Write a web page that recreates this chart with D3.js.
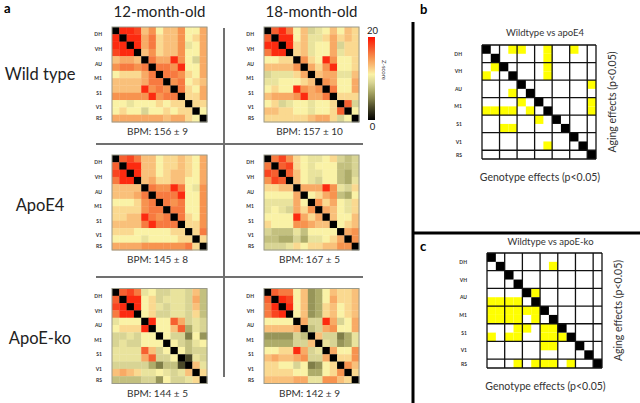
<!DOCTYPE html>
<html><head><meta charset="utf-8">
<script src="https://cdn.jsdelivr.net/npm/d3@7"></script>
<style>body{margin:0;background:#fff}svg{display:block}text{font-family:Lato,"Open Sans",sans-serif}</style>
</head><body><svg id="chart" width="640" height="403"></svg>
<script>
// ---------- data ----------
const regions = ["DH","VH","AU","M1","S1","V1","RS"];
const regionTickPos = [1,3,5,7,9,11,12.5];   // channel index at group centre
const nCh = 13;
const ages = ["12-month-old","18-month-old"];
const genotypes = ["Wild type","ApoE4","ApoE-ko"];
const bpm = [["BPM: 156 ± 9","BPM: 157 ± 10"],["BPM: 145 ± 8","BPM: 167 ± 5"],["BPM: 144 ± 5","BPM: 142 ± 9"]];
const colorbarTicks = [0,20];

// lower triangles of symmetric z-score matrices (row i holds columns 0..i-1)
const wt12 = [[],[19],[19,19],[18,19,19],[13,14,14,13],[15,16,16,15,16],[11,12,12,12,14,16],[13,13,13,13,14,16,16],[13,13,13,13,19,15,16,15],[15,15,15,15,15,19,15,16,16],[11,11,10,11,11,11,12,11,12,12],[11,12,11,11,9,11,11,12,11,12,12],[14,14,14,14,14,14,14,13,14,14,12,11]];
const wt18 = [[],[17],[19,19],[16,19,19],[11,11,12,12],[13,13,13,13,15],[9,10,10,10,12,14],[10,10,11,11,11,12,13],[11,12,11,11,19,15,14,15],[13,14,14,14,15,19,14,14,16],[11,12,9,10,11,11,10,11,11,12],[13,13,12,12,11,11,10,11,11,12,17],[12,12,12,12,12,12,13,14,14,12,9,11]];
const e4_12 = [[],[17],[18,19],[16,19,19],[13,13,13,13],[13,13,13,14,16],[11,11,11,12,15,16],[12,12,12,12,15,16,16],[12,12,13,13,19,16,15,16],[13,13,13,13,16,19,16,16,16],[12,12,12,11,11,11,11,11,12,12],[11,11,11,11,10,11,11,11,11,12,12],[14,14,14,14,15,15,15,15,15,15,16,12]];
const e4_18 = [[],[16],[18,17],[15,18,17],[12,12,13,13],[11,11,11,11,14],[10,10,10,10,14,11],[10,11,10,9,14,12,15],[11,11,11,11,19,14,12,14],[12,11,11,11,15,15,14,13,13],[9,8,8,8,10,8,11,11,11,11],[8,8,7,7,9,7,10,10,11,12,14],[9,9,9,10,12,11,12,12,13,13,15,15]];
const ko12 = [[],[17],[18,19],[16,19,19],[10,11,11,11],[11,12,12,12,19],[9,9,10,9,11,11],[9,10,9,9,11,11,11],[10,10,10,10,17,13,9,11],[10,10,10,10,14,17,9,9,11],[9,9,9,9,9,7,5,8,8,3],[13,14,13,12,10,10,11,10,9,10,13],[8,8,8,8,9,9,6,11,9,9,10,12]];
const ko18 = [[],[17],[16,19],[16,18,19],[11,11,11,11],[13,13,13,13,14],[6,6,6,6,9,8],[7,7,7,7,9,9,13],[11,11,12,12,19,14,9,10],[13,14,13,13,14,15,9,9,14],[12,12,11,11,9,11,5,6,11,12],[12,12,12,12,11,11,7,7,11,12,15],[13,13,13,13,14,14,10,10,15,15,13,12]];
const heatmaps = [[wt12, wt18],[e4_12, e4_18],[ko12, ko18]];

// significant cells [row, col] for comparison panels
const sigApoE4 = [[0,3],[0,4],[0,7],[1,7],[2,7],[3,7],[0,10],[2,1],[3,0],[4,12],[5,3],[6,4],[6,12],[7,0],[7,1],[7,2],[7,3],[7,5],[7,12],[8,6],[9,2],[9,3],[11,7]];
const sigApoEko = [[1,7],[4,5],[5,0],[5,1],[5,2],[5,3],[6,0],[6,1],[6,2],[6,3],[6,4],[6,5],[7,0],[7,1],[7,2],[7,3],[7,5],[8,3],[8,4],[8,6],[8,7],[9,0],[9,2],[9,3],[9,6],[9,7],[9,8],[10,6],[10,7],[12,3],[12,5],[12,6],[12,7],[12,9]];
const groupBounds = [0,2,4,6,8,10,12,13];

// ---------- drawing ----------
const svg = d3.select("#chart");
const color = d3.scaleLinear()
  .domain([0,3,5,7,9,11,13,15,17,20])
  .range(['#000000','#4a4828','#807e48','#aeac6a','#d8d494','#faf2a6','#f9c07a','#f7934f','#f66030','#ff1000'])
  .clamp(true);

function full(lower){
  return d3.range(nCh).map(i => d3.range(nCh).map(j => i===j ? 0 : (j<i ? lower[i][j] : lower[j][i])));
}

const hmSize = 95;
const hmX = [112, 264];
const hmY = [27, 155, 288.5];

heatmaps.forEach((row, gi) => row.forEach((lower, ai) => {
  const m = full(lower);
  const x0 = hmX[ai], y0 = hmY[gi];
  const band = d3.scaleBand().domain(d3.range(nCh)).range([0, hmSize]);
  const g = svg.append("g").attr("transform", `translate(${x0},${y0})`);
  const cells = [];
  m.forEach((r,i)=>r.forEach((v,j)=>cells.push({i,j,v})));
  g.selectAll("rect.c").data(cells).join("rect")
    .attr("x", d=>band(d.j)).attr("y", d=>band(d.i))
    .attr("width", band.bandwidth()+0.3).attr("height", band.bandwidth()+0.3)
    .attr("fill", d=>color(d.v));
  g.append("rect").attr("width",hmSize).attr("height",hmSize).attr("fill","none").attr("stroke","#9a9a8a").attr("stroke-width",1);
  const lin = d3.scaleLinear().domain([0,nCh]).range([0,hmSize]);
  const ax = g.append("g").attr("transform","translate(-10,0)").attr("color","#333")
    .call(d3.axisLeft(lin).tickValues(regionTickPos).tickFormat((d,k)=>regions[k]).tickSize(0));
  ax.select(".domain").remove();
  ax.selectAll("text").attr("font-size",5).attr("fill","#333").attr("font-family","Liberation Sans, Arial").attr("font-weight","bold").attr("x",0);
  svg.append("text").attr("x", x0+hmSize/2-2).attr("y", y0+hmSize+13)
    .attr("text-anchor","middle").attr("font-size",10).attr("fill","#333").text(bpm[gi][ai]);
}));

// column titles
ages.forEach((t,ai)=>{
  svg.append("text").attr("x", hmX[ai]+hmSize/2).attr("y", 17).attr("text-anchor","middle")
    .attr("font-size",15).attr("fill","#222").text(t);
});
// row titles
const rowTitleY = [80, 211, 344];
genotypes.forEach((t,gi)=>{
  svg.append("text").attr("x", 40).attr("y", rowTitleY[gi]).attr("text-anchor","middle")
    .attr("font-size",16.5).attr("fill","#222").text(t);
});
// panel letters
svg.append("text").attr("x",4).attr("y",13).attr("font-size",13).attr("font-weight","bold").attr("font-family","Liberation Sans, Arial").text("a");
svg.append("text").attr("x",420).attr("y",14).attr("font-size",13).attr("font-weight","bold").attr("font-family","Liberation Sans, Arial").text("b");
svg.append("text").attr("x",420).attr("y",251).attr("font-size",13).attr("font-weight","bold").attr("font-family","Liberation Sans, Arial").text("c");

// gray dividers
svg.append("line").attr("x1",224).attr("x2",224).attr("y1",28).attr("y2",377).attr("stroke","#707070").attr("stroke-width",2);
[144,277].forEach(y=>svg.append("line").attr("x1",96).attr("x2",363).attr("y1",y).attr("y2",y).attr("stroke","#707070").attr("stroke-width",2));

// colorbar
const cbX = 368, cbY0 = 37, cbY1 = 120, cbW = 7;
const grad = svg.append("defs").append("linearGradient").attr("id","cbg").attr("x1",0).attr("x2",0).attr("y1",1).attr("y2",0);
d3.range(0,20.01,1).forEach(v=>grad.append("stop").attr("offset", v/20).attr("stop-color", color(v)));
svg.append("rect").attr("x",cbX).attr("y",cbY0).attr("width",cbW).attr("height",cbY1-cbY0).attr("fill","url(#cbg)");
const cbScale = d3.scaleLinear().domain([0,20]).range([cbY1,cbY0]);
colorbarTicks.forEach(v=>{
  svg.append("text").attr("x",cbX+cbW/2+1).attr("y", v===20 ? cbScale(v)-3 : cbScale(v)+10).attr("text-anchor","middle")
    .attr("font-size",9.5).attr("fill","#222").text(String(v));
});
svg.append("text").attr("transform",`translate(382,70) rotate(90)`).attr("text-anchor","middle").attr("font-size",6).attr("fill","#333").text("Z-score");

// thick black separators
svg.append("line").attr("x1",413).attr("x2",413).attr("y1",22).attr("y2",403).attr("stroke","#000").attr("stroke-width",3);
svg.append("line").attr("x1",413).attr("x2",640).attr("y1",233).attr("y2",233).attr("stroke","#000").attr("stroke-width",3);

// comparison grids
function sigPanel(x0, y0, size, sig, title, titleY){
  const band = d3.scaleBand().domain(d3.range(nCh)).range([0,size]);
  const lin = d3.scaleLinear().domain([0,nCh]).range([0,size]);
  const g = svg.append("g").attr("transform",`translate(${x0},${y0})`);
  g.selectAll("rect.s").data(sig).join("rect")
    .attr("x",d=>band(d[1])).attr("y",d=>band(d[0]))
    .attr("width",band.bandwidth()).attr("height",band.bandwidth()).attr("fill","#ffff00");
  g.selectAll("rect.d").data(d3.range(nCh)).join("rect")
    .attr("x",d=>band(d)).attr("y",d=>band(d))
    .attr("width",band.bandwidth()).attr("height",band.bandwidth()).attr("fill","#000");
  groupBounds.forEach(b=>{
    g.append("line").attr("x1",lin(b)).attr("x2",lin(b)).attr("y1",0).attr("y2",size).attr("stroke","#111").attr("stroke-width",1.3);
    g.append("line").attr("y1",lin(b)).attr("y2",lin(b)).attr("x1",0).attr("x2",size).attr("stroke","#111").attr("stroke-width",1.3);
  });
  const ax = g.append("g").attr("transform","translate(-17,0)").attr("color","#333")
    .call(d3.axisLeft(lin).tickValues(regionTickPos).tickFormat((d,k)=>regions[k]).tickSize(0));
  ax.select(".domain").remove();
  ax.selectAll("text").attr("font-size",5).attr("fill","#333").attr("font-family","Liberation Sans, Arial").attr("font-weight","bold");
  svg.append("text").attr("x",x0+size/2+6).attr("y",titleY).attr("text-anchor","middle").attr("font-size",9.5).attr("fill","#333").text(title);
  svg.append("text").attr("x",x0+size/2+1).attr("y",y0+size+22).attr("text-anchor","middle").attr("font-size",10.5).attr("fill","#333").text("Genotype effects (p<0.05)");
  svg.append("text").attr("transform",`translate(${x0+size+20},${y0+size/2}) rotate(-90)`).attr("text-anchor","middle").attr("font-size",10.5).attr("fill","#333").text("Aging effects (p<0.05)");
}
sigPanel(482, 45, 114, sigApoE4, "Wildtype vs apoE4", 36);
sigPanel(487, 253, 115, sigApoEko, "Wildtype vs apoE-ko", 245);
</script></body></html>
